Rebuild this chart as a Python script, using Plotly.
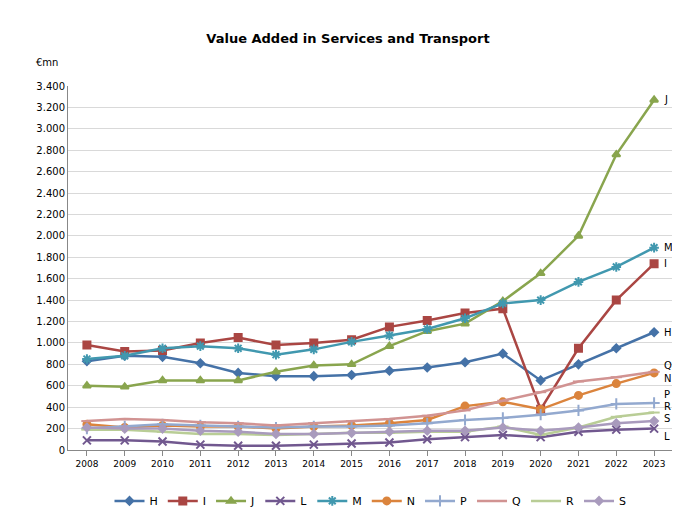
import plotly.graph_objects as go

years = list(range(2008, 2024))
H = [830,880,870,810,720,690,690,700,740,770,820,900,650,800,950,1100]
I = [980,920,930,1000,1050,980,1000,1030,1150,1210,1280,1320,380,950,1400,1740]
J = [600,590,650,650,650,730,790,800,970,1110,1180,1390,1650,2000,2760,3270]
L = [90,90,80,50,40,40,50,60,70,100,120,140,120,170,190,200]
M = [850,880,950,970,950,890,940,1010,1070,1130,1230,1370,1400,1570,1710,1890]
N = [240,210,230,220,220,200,220,230,250,280,410,450,380,510,620,720]
P = [200,220,240,230,220,210,220,220,230,250,280,300,330,370,430,440]
Q = [270,290,280,260,250,230,250,270,290,320,370,460,540,640,680,730]
R = [190,190,170,150,150,140,150,160,160,170,170,220,140,210,310,350]
S = [210,200,200,180,170,150,150,160,170,180,180,210,180,210,250,270]

series = [
    ("H", H, "#4572A7", "diamond", 6),
    ("I", I, "#AA4643", "square", 7),
    ("J", J, "#89A54E", "triangle-up", 7),
    ("L", L, "#71588F", "x-thin-open", 8),
    ("M", M, "#4198AF", "asterisk-open", 8),
    ("N", N, "#DB843D", "circle", 7),
    ("P", P, "#93A9CF", "cross-thin-open", 8),
    ("Q", Q, "#D19392", "line-ew-open", 8),
    ("R", R, "#B9CD96", "line-ew-open", 8),
    ("S", S, "#A99BBD", "diamond", 6),
]
r_marker_line = {"R": "#2ca02c"}
label_y = {"H": 1100, "I": 1740, "J": 3270, "L": 130, "M": 1890, "N": 670, "P": 520, "Q": 790, "R": 410, "S": 295}

fig = go.Figure()
for name, vals, col, sym, sz in series:
    mline = dict(color=r_marker_line.get(name, col), width=2)
    fig.add_trace(go.Scatter(x=years, y=vals, name=name, mode="lines+markers",
                             line=dict(color=col, width=2.5),
                             marker=dict(symbol=sym, size=sz, color=col, line=mline)))
    fig.add_annotation(x=years[-1], y=label_y[name], text=name, showarrow=False,
                       xanchor="left", xshift=8, font=dict(size=10, color="black"))

fig.update_layout(
    width=680, height=519, paper_bgcolor="white", plot_bgcolor="white",
    font=dict(family="DejaVu Sans", size=10, color="black"),
    title=dict(text="<b>Value Added in Services and Transport</b>", x=0.5, y=0.95, font=dict(size=13)),
    margin=dict(l=60, r=15, t=78, b=67),
    legend=dict(orientation="h", x=0.5, xanchor="center", y=-0.1, yanchor="top",
                font=dict(size=11, family="DejaVu Sans"), itemwidth=30),
    xaxis=dict(tickmode="array", tickvals=years, range=[2007.5, 2023.5], showgrid=False,
               showline=True, linecolor="#888", ticks="outside", tickcolor="#888", tickfont=dict(size=9)),
    yaxis=dict(range=[0, 3400], dtick=200, tickformat=",.0f",
               showgrid=True, gridcolor="#d9d9d9", showline=True, linecolor="#888",
               tickfont=dict(size=10)),
    separators=",.",
)
for tr in fig.data:
    tr.legendgrouptitle = None
fig.update_layout(legend_font=dict(size=11), legend_title_text="")
fig.add_annotation(x=0, xref="paper", y=1.085, yref="paper", text="€mn", showarrow=False,
                   xanchor="right", xshift=-8, font=dict(size=10))
fig.write_html("out.html")
